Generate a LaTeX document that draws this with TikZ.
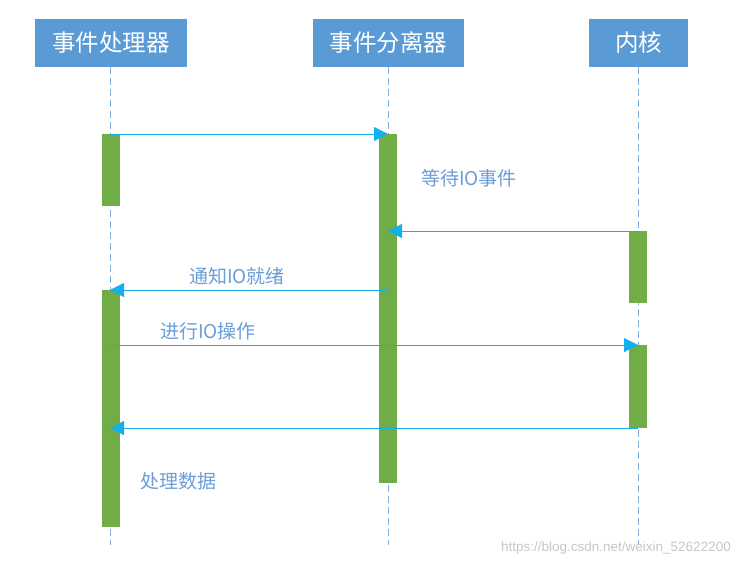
\documentclass[tikz,border=0pt]{standalone}
\usepackage{fontspec}
\newfontfamily\cjk{Noto Sans CJK SC}
\newfontfamily\wm{Liberation Sans}
\usetikzlibrary{arrows.meta}
\definecolor{hdrblue}{HTML}{5B9BD5}
\definecolor{barg}{HTML}{70AD47}
\definecolor{arrc}{HTML}{13B0EC}
\definecolor{lblc}{HTML}{6A9ED8}
\definecolor{lifec}{HTML}{7FAEE0}
\tikzset{
  hdr/.style={fill=hdrblue, text=white, minimum height=48pt, inner sep=0pt, font=\cjk\fontsize{23.5}{27}\selectfont},
  actbar/.style={fill=barg, minimum width=18pt, inner sep=0pt},
  life/.style={draw=lifec, line width=0.8pt, dash pattern=on 7pt off 4pt},
  msg/.style={draw=arrc, line width=1pt, -{Triangle[length=14pt,width=14pt]}},
  lbl/.style={text=lblc, anchor=west, inner sep=0pt, font=\cjk\fontsize{19}{23}\selectfont}
}
\begin{document}
\begin{tikzpicture}[x=1pt,y=-1pt]
\useasboundingbox (0,0) rectangle (741,566);
\fill[white] (0,0) rectangle (741,566);
% headers
\node[hdr, minimum width=152pt] (hA) at (111,43) {事件处理器};
\node[hdr, minimum width=151pt] (hB) at (388.5,43) {事件分离器};
\node[hdr, minimum width=99pt] (hC) at (638.5,43) {内核};
% lifeline ends
\coordinate (eA) at (110,545);
\coordinate (eB) at (388,545);
\coordinate (eC) at (638,545);
\draw[life] (110,67) -- (eA);
\draw[life] (388,67) -- (eB);
\draw[life] (638,67) -- (eC);
% activation bars
\node[actbar, minimum height=72pt, anchor=north] (a1) at (110.5,134) {};
\node[actbar, minimum height=237pt, anchor=north] (a2) at (110.5,290) {};
\node[actbar, minimum height=349pt, anchor=north] (b1) at (388,134) {};
\node[actbar, minimum height=72pt, anchor=north] (c1) at (638,231) {};
\node[actbar, minimum height=83pt, anchor=north] (c2) at (638,345) {};
% message points
\coordinate (m1s) at (110,134);
\coordinate (m1e) at (388,134);
\coordinate (m2s) at (638,231);
\coordinate (m2e) at (388,231);
\coordinate (m3s) at (388,290);
\coordinate (m3e) at (110,290);
\coordinate (m4s) at (110,345);
\coordinate (m4e) at (638,345);
\coordinate (m5s) at (638,428);
\coordinate (m5e) at (110,428);
\draw[msg] (m1s) -- (m1e);
\draw[msg] (m2s) -- (m2e);
\draw[msg] (m3s) -- (m3e);
\draw[msg] (m4s) -- (m4e);
\draw[msg] (m5s) -- (m5e);
% labels
\node[lbl] (l1) at (421,178) {等待IO事件};
\node[lbl] (l2) at (189,276) {通知IO就绪};
\node[lbl] (l3) at (160,331) {进行IO操作};
\node[lbl] (l4) at (140,481) {处理数据};
% watermark
\node[anchor=east, inner sep=0pt, text=black!22, font=\wm\fontsize{13.5}{16}\selectfont] (wm) at (731,548) {https://blog.csdn.net/weixin\_52622200};
\end{tikzpicture}
\end{document}
